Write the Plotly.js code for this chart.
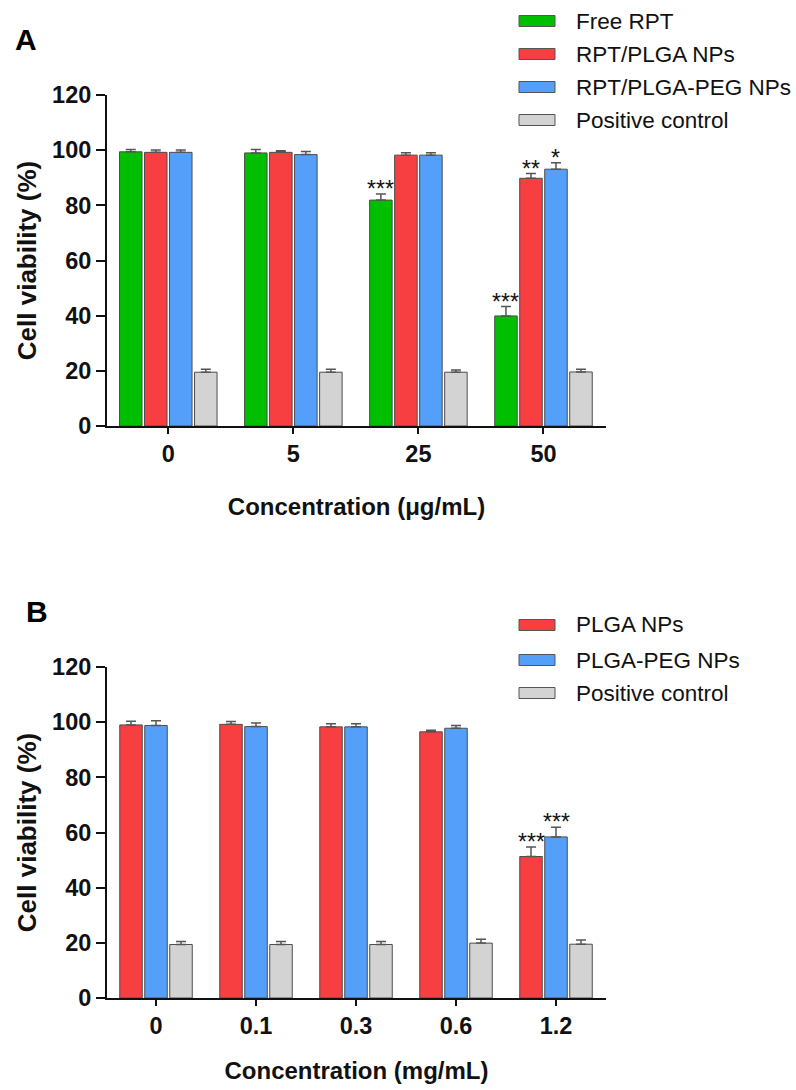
<!DOCTYPE html>
<html>
<head>
<meta charset="utf-8">
<script src="https://cdn.plot.ly/plotly-3.0.1.min.js"></script>
<style>
  html, body { margin: 0; padding: 0; background: #fff; }
  #chartA, #chartB { width: 796px; height: 545px; }
</style>
</head>
<body>
<div id="chartA"></div>
<div id="chartB"></div>
<script>
// ---------- Panel A data ----------
const catA = ['0', '5', '25', '50'];
const seriesNamesA = ['Free RPT', 'RPT/PLGA NPs', 'RPT/PLGA-PEG NPs', 'Positive control'];
const freeRPT = [99.4, 99.0, 81.9, 39.9];
const freeRPTErr = [0.8, 1.2, 2.2, 3.4];
const rptPLGA = [99.2, 99.2, 98.2, 89.8];
const rptPLGAErr = [0.9, 0.6, 0.9, 1.7];
const rptPLGAPEG = [99.2, 98.4, 98.2, 93.1];
const rptPLGAPEGErr = [0.9, 1.1, 0.9, 2.3];
const posCtrlA = [19.5, 19.5, 19.5, 19.6];
const posCtrlAErr = [1.1, 1.1, 0.8, 1.0];
const starsFreeRPT = ['', '', '***', '***'];
const starsRptPLGA = ['', '', '', '**'];
const starsRptPLGAPEG = ['', '', '', '*'];
const starsPosCtrlA = ['', '', '', ''];

// ---------- Panel B data ----------
const catB = ['0', '0.1', '0.3', '0.6', '1.2'];
const seriesNamesB = ['PLGA NPs', 'PLGA-PEG NPs', 'Positive control'];
const plga = [99.0, 99.2, 98.3, 96.5, 51.3];
const plgaErr = [1.3, 1.0, 1.1, 0.6, 3.4];
const plgaPeg = [98.8, 98.4, 98.3, 97.8, 58.4];
const plgaPegErr = [1.7, 1.3, 1.1, 1.0, 3.5];
const posCtrlB = [19.4, 19.4, 19.4, 19.9, 19.5];
const posCtrlBErr = [1.1, 1.1, 1.1, 1.4, 1.5];
const starsPlga = ['', '', '', '', '***'];
const starsPlgaPeg = ['', '', '', '', '***'];
const starsPosCtrlB = ['', '', '', '', ''];

const yTicks = [0, 20, 40, 60, 80, 100, 120];

// ---------- styles ----------
const GREEN = '#00BE00', RED = '#F73F42', BLUE = '#549FFA', GRAY = '#D3D3D3';
const FONT = 'Arial, "Liberation Sans", Helvetica, sans-serif';

function makeBars(cats, vals, errs, names, colors) {
  return vals.map((v, i) => ({
    type: 'bar', x: cats, y: v, name: names[i],
    marker: { color: colors[i], line: { color: '#4d4d4d', width: 1 } },
    error_y: { type: 'data', array: errs[i], arrayminus: errs[i].map(() => 0), symmetric: false,
               color: '#555555', thickness: 1.5, width: 5 },
    showlegend: false, hoverinfo: 'x+y'
  }));
}

function starAnnotations(cats, vals, errs, stars, groupWidth) {
  const n = vals.length, slot = groupWidth / n, anns = [];
  stars.forEach((s, i) => s.forEach((txt, j) => {
    if (!txt) return;
    anns.push({ x: j + (i - (n - 1) / 2) * slot, y: vals[i][j] + errs[i][j], xref: 'x', yref: 'y',
      text: txt, showarrow: false, yanchor: 'bottom', xanchor: 'center', yshift: -10,
      font: { family: FONT, size: 23, color: '#111' } });
  }));
  return anns;
}

function legendItems(names, colors, plot, rowsY, swX0, swX1, textX) {
  const px = p => (p - plot.l) / (plot.r - plot.l);
  const py = p => (plot.b - p) / (plot.b - plot.t);
  const shapes = [], anns = [];
  names.forEach((nm, i) => {
    const cy = rowsY[i];
    shapes.push({ type: 'rect', xref: 'paper', yref: 'paper',
      x0: px(swX0), x1: px(swX1), y0: py(cy + 5.5), y1: py(cy - 5.5),
      fillcolor: colors[i], line: { color: '#555', width: 1 } });
    anns.push({ xref: 'paper', yref: 'paper', x: px(textX), y: py(cy), text: nm,
      showarrow: false, xanchor: 'left', yanchor: 'middle',
      font: { family: FONT, size: 22.5, color: '#111' } });
  });
  return { shapes, anns };
}

function axisStyle() {
  return {
    showgrid: false, zeroline: false, showline: true, linecolor: '#111', linewidth: 2,
    ticks: 'outside', tickcolor: '#111', tickwidth: 2,
    tickfont: { family: FONT, size: 23.5, color: '#111', weight: 'bold' }
  };
}

// ---------- Panel A ----------
(function () {
  const colors = [GREEN, RED, BLUE, GRAY];
  const vals = [freeRPT, rptPLGA, rptPLGAPEG, posCtrlA];
  const errs = [freeRPTErr, rptPLGAErr, rptPLGAPEGErr, posCtrlAErr];
  const stars = [starsFreeRPT, starsRptPLGA, starsRptPLGAPEG, starsPosCtrlA];
  const plot = { l: 107, r: 606, t: 95, b: 426 };
  const leg = legendItems(seriesNamesA, colors, plot, [21, 54, 87, 120], 519, 555, 574);
  const layout = {
    width: 796, height: 545, paper_bgcolor: '#fff', plot_bgcolor: '#fff',
    margin: { l: plot.l, r: 796 - plot.r, t: plot.t, b: 545 - plot.b, pad: 0 },
    barmode: 'group', bargap: 0.2, bargroupgap: 0.1, showlegend: false,
    xaxis: Object.assign(axisStyle(), { type: 'category', range: [-0.49, 3.5], ticklen: 6,
      title: { text: 'Concentration (μg/mL)', standoff: 32,
               font: { family: FONT, size: 24, color: '#111', weight: 'bold' } } }),
    yaxis: Object.assign(axisStyle(), { range: [0, 120], tickvals: yTicks, ticklen: 9,
      title: { text: 'Cell viability (%)', standoff: 8,
               font: { family: FONT, size: 26, color: '#111', weight: 'bold' } } }),
    shapes: leg.shapes,
    annotations: starAnnotations(catA, vals, errs, stars, 0.8).concat(leg.anns).concat([
      { xref: 'paper', yref: 'paper', x: (13 - plot.l) / (plot.r - plot.l), y: (plot.b - 39) / (plot.b - plot.t),
        text: '<b>A</b>', showarrow: false, xanchor: 'left', yanchor: 'middle',
        font: { family: FONT, size: 30, color: '#000' } }
    ])
  };
  Plotly.newPlot('chartA', makeBars(catA, vals, errs, seriesNamesA, colors), layout,
    { staticPlot: true, displayModeBar: false });
})();

// ---------- Panel B ----------
(function () {
  const colors = [RED, BLUE, GRAY];
  const vals = [plga, plgaPeg, posCtrlB];
  const errs = [plgaErr, plgaPegErr, posCtrlBErr];
  const stars = [starsPlga, starsPlgaPeg, starsPosCtrlB];
  const plot = { l: 107, r: 606, t: 122, b: 453 };
  const leg = legendItems(seriesNamesB, colors, plot, [80, 115, 148], 519, 555, 574);
  const layout = {
    width: 796, height: 545, paper_bgcolor: '#fff', plot_bgcolor: '#fff',
    margin: { l: plot.l, r: 796 - plot.r, t: plot.t, b: 545 - plot.b, pad: 0 },
    barmode: 'group', bargap: 0.25, bargroupgap: 0.1, showlegend: false,
    xaxis: Object.assign(axisStyle(), { type: 'category', range: [-0.49, 4.5], ticklen: 6,
      title: { text: 'Concentration (mg/mL)', standoff: 24,
               font: { family: FONT, size: 24, color: '#111', weight: 'bold' } } }),
    yaxis: Object.assign(axisStyle(), { range: [0, 120], tickvals: yTicks, ticklen: 9,
      title: { text: 'Cell viability (%)', standoff: 8,
               font: { family: FONT, size: 26, color: '#111', weight: 'bold' } } }),
    shapes: leg.shapes,
    annotations: starAnnotations(catB, vals, errs, stars, 0.75).concat(leg.anns).concat([
      { xref: 'paper', yref: 'paper', x: (24 - plot.l) / (plot.r - plot.l), y: (plot.b - 67) / (plot.b - plot.t),
        text: '<b>B</b>', showarrow: false, xanchor: 'left', yanchor: 'middle',
        font: { family: FONT, size: 30, color: '#000' } }
    ])
  };
  Plotly.newPlot('chartB', makeBars(catB, vals, errs, seriesNamesB, colors), layout,
    { staticPlot: true, displayModeBar: false });
})();
</script>
</body>
</html>
